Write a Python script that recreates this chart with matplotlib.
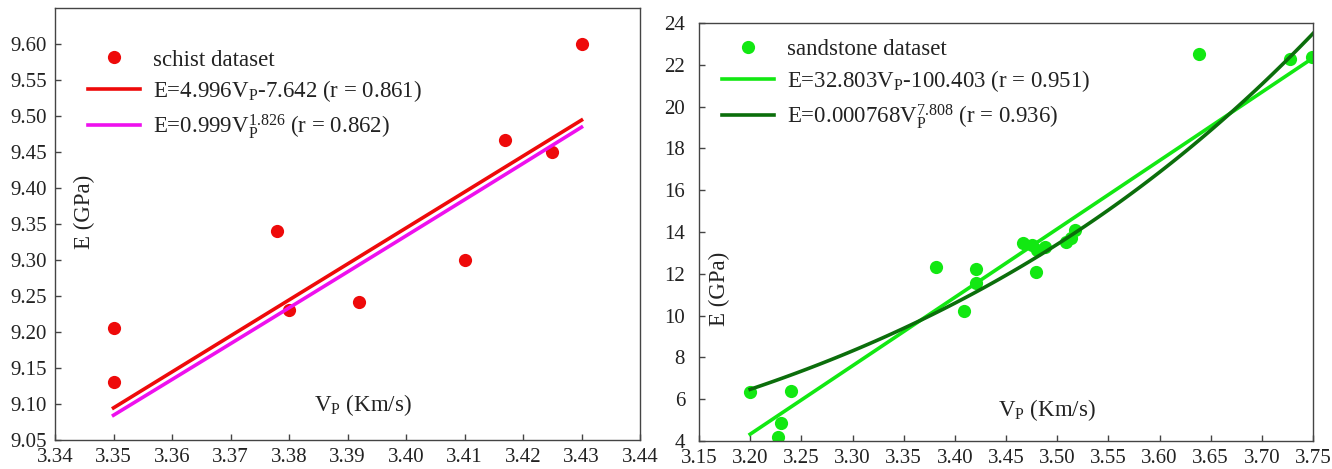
import numpy as np
import matplotlib
matplotlib.use("Agg")
import matplotlib.pyplot as plt

plt.rcParams['font.family'] = ['Liberation Serif', 'DejaVu Serif']
plt.rcParams['mathtext.fontset'] = 'custom'
plt.rcParams['mathtext.rm'] = 'Liberation Serif'
plt.rcParams['mathtext.it'] = 'Liberation Serif:italic'
plt.rcParams['mathtext.bf'] = 'Liberation Serif:bold'

# ---------------- data ----------------
# schist dataset
schist_vp = [3.350, 3.350, 3.378, 3.380, 3.392, 3.410, 3.417, 3.425, 3.430]
schist_e = [9.205, 9.130, 9.340, 9.231, 9.241, 9.300, 9.467, 9.450, 9.600]
schist_lin = (4.996, -7.642)       # E = a*Vp + b
schist_pow = (0.999, 1.826)        # E = a*Vp^b
schist_fit_range = (3.35, 3.43)

# sandstone dataset
sand_vp = [3.200, 3.240, 3.230, 3.227, 3.382, 3.421, 3.421, 3.409, 3.467, 3.475,
           3.480, 3.479, 3.488, 3.509, 3.514, 3.517, 3.639, 3.728, 3.749]
sand_e = [6.34, 6.41, 4.85, 4.18, 12.34, 12.21, 11.55, 10.22, 13.46, 13.38,
          13.14, 12.10, 13.30, 13.54, 13.70, 14.10, 22.50, 22.26, 22.39]
sand_lin_drawn = (32.73, -100.41)   # drawn linear fit
sand_pow_drawn = (0.000506, 8.13)   # drawn power fit
sand_fit_range = (3.20, 3.75)

schist_xticks = [3.34, 3.35, 3.36, 3.37, 3.38, 3.39, 3.40, 3.41, 3.42, 3.43, 3.44]
schist_yticks = [9.05, 9.10, 9.15, 9.20, 9.25, 9.30, 9.35, 9.40, 9.45, 9.50, 9.55, 9.60]
sand_xticks = [3.15, 3.20, 3.25, 3.30, 3.35, 3.40, 3.45, 3.50, 3.55, 3.60, 3.65, 3.70, 3.75]
sand_yticks = [4, 6, 8, 10, 12, 14, 16, 18, 20, 22, 24]

lab_s = 'schist dataset'
lab_s1 = r'E=4.996V$_\mathrm{P}$-7.642 (r = 0.861)'
lab_s2 = r'E=0.999V$_\mathrm{P}^{\mathrm{1.826}}$ (r = 0.862)'
lab_d = 'sandstone dataset'
lab_d1 = r'E=32.803V$_\mathrm{P}$-100.403 (r = 0.951)'
lab_d2 = r'E=0.000768V$_\mathrm{P}^{\mathrm{7.808}}$ (r = 0.936)'

# ---------------- figure ----------------
W, H = 1332, 469
fig = plt.figure(figsize=(W / 100, H / 100), dpi=100)

def px_axes(x0, y0, x1, y1):
    return fig.add_axes([x0 / W, 1 - y1 / H, (x1 - x0) / W, (y1 - y0) / H])

ax1 = px_axes(55, 8, 640, 440)
ax2 = px_axes(699, 23, 1313, 441)

red = '#ee0a0a'
mag = '#ee10ee'
lgreen = '#12e812'
dgreen = '#0b6e0b'
FS = 16.5
TFS = 15
TXT = '#222222'

# left panel
xs = np.linspace(*schist_fit_range, 50)
ax1.plot(schist_vp, schist_e, 'o', color=red, ms=9.5, mec='none', label=lab_s)
ax1.plot(xs, schist_lin[0] * xs + schist_lin[1], color=red, lw=2.6, label=lab_s1)
ax1.plot(xs, schist_pow[0] * xs ** schist_pow[1], color=mag, lw=2.6, label=lab_s2)
ax1.set_xlim(3.34, 3.44)
ax1.set_ylim(9.05, 9.65)
ax1.set_xticks(schist_xticks)
ax1.set_xticklabels([f'{v:.2f}' for v in schist_xticks])
ax1.set_yticks(schist_yticks)
ax1.set_yticklabels([f'{v:.2f}' for v in schist_yticks])

# right panel
xs2 = np.linspace(*sand_fit_range, 100)
ax2.plot(sand_vp, sand_e, 'o', color=lgreen, ms=9.5, mec='none', label=lab_d)
ax2.plot(xs2, sand_lin_drawn[0] * xs2 + sand_lin_drawn[1], color=lgreen, lw=2.6, label=lab_d1)
ax2.plot(xs2, sand_pow_drawn[0] * xs2 ** sand_pow_drawn[1], color=dgreen, lw=2.6, label=lab_d2)
ax2.set_xlim(3.15, 3.75)
ax2.set_ylim(4, 24)
ax2.set_xticks(sand_xticks)
ax2.set_xticklabels([f'{v:.2f}' for v in sand_xticks])
ax2.set_yticks(sand_yticks)

for ax in (ax1, ax2):
    for s in ax.spines.values():
        s.set_color('#444444')
        s.set_linewidth(1.0)
    ax.tick_params(direction='in', length=4.5, width=1, color='#444444',
                   labelsize=TFS, labelcolor=TXT)
    ax.tick_params(axis='x', pad=6)
    leg = ax.legend(loc='upper left', frameon=False, fontsize=FS,
                    handlelength=2.3, handletextpad=0.55, labelspacing=0.35,
                    borderaxespad=0.0, borderpad=0.0, numpoints=1)
    for t in leg.get_texts():
        t.set_color(TXT)

ax1.tick_params(axis='y', pad=6)
ax2.tick_params(axis='y', pad=10)

ax1.legend_.set_bbox_to_anchor((0.056, 0.904))
ax2.legend_.set_bbox_to_anchor((0.037, 0.962))

# axis labels placed inside the axes
ax1.text(0.526, 0.081, r'V$_\mathrm{P}$ (Km/s)', transform=ax1.transAxes,
         ha='center', va='center', fontsize=FS, color=TXT)
ax2.text(0.567, 0.074, r'V$_\mathrm{P}$ (Km/s)', transform=ax2.transAxes,
         ha='center', va='center', fontsize=FS, color=TXT)
ax1.text(0.05, 0.528, 'E (GPa)', transform=ax1.transAxes, rotation=90,
         ha='center', va='center', fontsize=FS, color=TXT)
ax2.text(0.034, 0.364, 'E (GPa)', transform=ax2.transAxes, rotation=90,
         ha='center', va='center', fontsize=FS, color=TXT)

fig.savefig('out.png', dpi=100)
